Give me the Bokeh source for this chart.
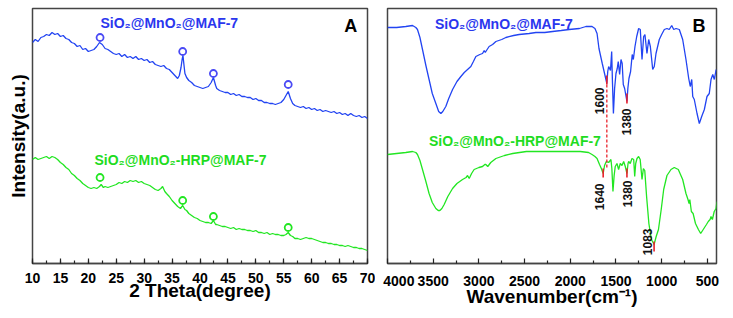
import numpy as np
from bokeh.plotting import figure
from bokeh.layouts import row
from bokeh.models import Label, SingleIntervalTicker, FixedTicker, Range1d
from bokeh.embed import file_html
from bokeh.resources import INLINE
from bokeh.core.properties import value

FONT = "Liberation Sans"
BLUE = "#2244f2"
BLUE_TXT = "#2a36ee"
GREEN = "#22e622"
GREEN_TXT = "#1fdc1f"
RED = "#e8202a"
FRAME = "#444444"

# ---------------- XRD (panel A) ----------------
xrd_2theta_blue = [
    10.0, 10.5, 11.0, 11.5, 12.0, 12.5, 13.0, 13.5, 14.0, 14.5,
    15.0, 15.5, 16.0, 16.5, 17.0, 17.5, 18.0, 18.5, 19.0, 19.5,
    20.0, 20.5, 21.0, 21.5, 22.0, 22.5, 23.0, 23.5, 24.0, 24.5,
    25.0, 25.5, 26.0, 26.5, 27.0, 27.5, 28.0, 28.5, 29.0, 29.5,
    30.0, 30.5, 31.0, 31.5, 32.0, 32.5, 33.0, 33.5, 34.0, 34.5,
    35.0, 35.5, 36.0, 36.3, 36.6, 36.8, 36.95, 37.1, 37.3, 37.6,
    38.0, 38.5, 39.0, 39.5, 40.0, 40.5, 41.0, 41.5, 42.0, 42.4,
    42.8, 43.0, 43.5, 44.0, 44.5, 45.0, 45.5, 46.0, 46.5, 47.0,
    47.5, 48.0, 48.5, 49.0, 49.5, 50.0, 50.5, 51.0, 51.5, 52.0,
    52.5, 53.0, 53.5, 54.0, 54.5, 55.0, 55.4, 55.8, 56.2, 56.6,
    57.0, 57.5, 58.0, 58.5, 59.0, 59.5, 60.0, 60.5, 61.0, 61.5,
    62.0, 62.5, 63.0, 63.5, 64.0, 64.5, 65.0, 65.5, 66.0, 66.5,
    67.0, 67.5, 68.0, 68.5, 69.0, 69.5, 70.0]
xrd_int_blue = [
    221, 224, 222, 226, 227, 229, 228, 231, 229, 230,
    227, 228, 225, 224, 221, 220, 217, 218, 214, 215,
    212, 213, 214, 217, 221, 219, 215, 214, 212, 210,
    209, 210, 207, 209, 206, 207, 205, 207, 204, 205,
    203, 204, 201, 202, 199, 198, 197, 198, 195, 194,
    191, 188, 185, 188, 196, 204, 208, 200, 190, 186,
    183, 181, 178, 177, 176, 175, 176, 177, 181, 186,
    178, 175, 173, 172, 171, 171, 169, 170, 168, 169,
    167, 167, 166, 166, 164, 165, 163, 163, 161, 161,
    160, 160, 159, 160, 161, 164, 168, 172, 165, 160,
    158, 157, 156, 157, 155, 156, 154, 155, 153, 154,
    152, 153, 152, 151, 152, 150, 151, 149, 150, 148,
    150, 148, 147, 148, 146, 147, 145]

xrd_2theta_green = [
    10.0, 10.5, 11.0, 11.5, 12.0, 12.5, 13.0, 13.5, 14.0, 14.5,
    15.0, 15.5, 16.0, 16.5, 17.0, 17.5, 18.0, 18.5, 19.0, 19.5,
    20.0, 20.5, 21.0, 21.5, 22.0, 22.3, 22.7, 23.0, 23.5, 24.0,
    24.5, 25.0, 25.5, 26.0, 26.5, 27.0, 27.5, 28.0, 28.5, 29.0,
    29.5, 30.0, 30.5, 31.0, 31.5, 32.0, 32.5, 33.0, 33.3, 33.7,
    34.0, 34.5, 35.0, 35.5, 36.0, 36.5, 36.9, 37.3, 37.6, 38.0,
    38.5, 39.0, 39.5, 40.0, 40.5, 41.0, 41.5, 42.0, 42.4, 42.8,
    43.0, 43.5, 44.0, 44.5, 45.0, 45.5, 46.0, 46.5, 47.0, 47.5,
    48.0, 48.5, 49.0, 49.5, 50.0, 50.5, 51.0, 51.5, 52.0, 52.5,
    53.0, 53.5, 54.0, 54.5, 55.0, 55.4, 55.8, 56.2, 56.6, 57.0,
    57.5, 58.0, 58.5, 59.0, 59.5, 60.0, 60.5, 61.0, 61.5, 62.0,
    62.5, 63.0, 63.5, 64.0, 64.5, 65.0, 65.5, 66.0, 66.5, 67.0,
    67.5, 68.0, 68.5, 69.0, 69.5, 70.0]
xrd_int_green = [
    104, 106, 104, 105, 106, 107, 105, 107, 106, 104,
    101, 99, 96, 94, 90, 88, 85, 83, 80, 78,
    76, 75, 76, 75, 77, 79, 76, 77, 76, 77,
    78, 79, 81, 80, 82, 81, 83, 82, 83, 81,
    82, 80, 79, 78, 76, 74, 73, 75, 77, 72,
    70, 67, 63, 60, 57, 55, 58, 54, 53, 50,
    48, 46, 45, 43, 42, 41, 41, 40, 43, 39,
    39, 38, 37, 37, 36, 35, 36, 34, 35, 34,
    34, 33, 33, 32, 33, 31, 31, 30, 31, 29,
    30, 29, 29, 28, 28, 29, 31, 28, 27, 25,
    25, 24, 25, 26, 25, 25, 24, 23, 22, 21,
    21, 20, 20, 19, 19, 18, 18, 17, 18, 17,
    16, 16, 15, 15, 14, 13]

xrd_marker_2theta = [22.1, 36.9, 42.4, 55.8]
xrd_marker_blue = [226, 212, 190, 179]
xrd_marker_green = [86, 63, 47, 36]

# ---------------- FTIR (panel B) ----------------
ftir_wn_blue = [
    4000, 3900, 3800, 3726, 3690, 3672, 3645, 3617, 3580, 3545,
    3510, 3471, 3440, 3416, 3395, 3362, 3330, 3288, 3240, 3197,
    3160, 3124, 3088, 3060, 3033, 2990, 2960, 2942, 2930, 2924,
    2888, 2850, 2814, 2750, 2705, 2620, 2559, 2450, 2376, 2280,
    2193, 2100, 2012, 1900, 1829, 1762, 1730, 1707, 1686, 1650,
    1625, 1600, 1590, 1580, 1570, 1560, 1547, 1538, 1528, 1515,
    1500, 1486, 1475, 1460, 1445, 1432, 1420, 1405, 1380, 1370,
    1358, 1340, 1322, 1310, 1292, 1273, 1252, 1234, 1215, 1197,
    1183, 1161, 1142, 1124, 1098, 1081, 1062, 1026, 1000, 971,
    942, 917, 890, 868, 843, 807, 770, 734, 704, 687,
    671, 660, 643, 613, 588, 562, 533, 504, 479, 460,
    441, 424, 404]
ftir_t_blue = [
    236, 236, 237, 238, 236, 234, 226, 214, 198, 184,
    170, 160, 152, 150, 152, 157, 165, 174, 182, 187,
    191, 194, 197, 202, 207, 209, 210, 213, 211, 212,
    217, 219, 222, 224, 226, 228, 229, 230, 231, 231,
    232, 233, 234, 235, 237, 237, 235, 230, 215, 200,
    190, 180, 192, 197, 195, 193, 212, 180, 150, 175,
    190, 195, 202, 189, 204, 200, 179, 175, 162, 175,
    185, 192, 209, 204, 217, 227, 235, 234, 204, 227,
    229, 210, 224, 217, 194, 197, 210, 224, 229, 234,
    235, 234, 238, 234, 235, 234, 224, 204, 185, 177,
    184, 167, 164, 150, 140, 147, 154, 167, 170, 184,
    189, 184, 194]

ftir_wn_green = [
    4000, 3900, 3800, 3726, 3690, 3672, 3645, 3617, 3580, 3545,
    3510, 3471, 3445, 3427, 3405, 3380, 3340, 3288, 3240, 3179,
    3140, 3124, 3106, 3080, 3052, 3000, 2960, 2935, 2924, 2903,
    2870, 2814, 2720, 2630, 2480, 2185, 1891, 1800, 1762, 1730,
    1707, 1680, 1660, 1640, 1625, 1606, 1580, 1555, 1545, 1533,
    1520, 1508, 1489, 1471, 1453, 1434, 1416, 1398, 1380, 1368,
    1361, 1344, 1325, 1306, 1295, 1284, 1270, 1252, 1235, 1215,
    1200, 1185, 1165, 1140, 1112, 1083, 1060, 1035, 1005, 978,
    942, 898, 862, 818, 770, 734, 712, 700, 692, 675,
    656, 630, 598, 573, 545, 510, 490, 470, 460, 445,
    425, 405, 395]
ftir_t_green = [
    109, 110, 111, 112, 111, 109, 103, 94, 82, 70,
    61, 55, 53, 53, 55, 59, 67, 75, 80, 84,
    86, 88, 85, 90, 94, 96, 97, 99, 99, 97,
    101, 105, 108, 110, 112, 112, 112, 111, 109, 107,
    105, 99, 95, 90, 98, 102, 101, 104, 95, 72,
    88, 97, 100, 94, 100, 98, 102, 97, 90, 100,
    102, 100, 105, 104, 87, 100, 105, 107, 104, 84,
    95, 93, 67, 40, 24, 19, 27, 34, 54, 74,
    88, 94, 96, 94, 84, 70, 64, 60, 64, 52,
    50, 40, 34, 30, 34, 39, 42, 44, 47, 44,
    52, 55, 62]

peak_names = ["1600", "1380", "1640", "1380", "1083"]
peak_wn = [1600, 1380, 1640, 1380, 1083]
peak_mark_lo = [179, 160, 86, 86, 12]
peak_mark_hi = [188, 170, 95, 95, 22]
peak_label_wn = [1685, 1380, 1675, 1372, 1160]
peak_label_top = [176, 155, 80, 83, 35]

ftir_major_ticks = [4000, 3500, 3000, 2500, 2000, 1500, 1000, 500]
ftir_minor_ticks = [3750, 3250, 2750, 2250, 1750, 1250, 750]


def style_common(p):
    p.outline_line_color = FRAME
    p.outline_line_width = 1.5
    p.xgrid.visible = False
    p.ygrid.visible = False
    p.background_fill_color = "white"
    p.border_fill_color = "white"
    ax = p.xaxis[0]
    ax.axis_line_color = FRAME
    ax.axis_line_width = 1.5
    ax.major_tick_in = 5
    ax.major_tick_out = 0
    ax.minor_tick_in = 3
    ax.minor_tick_out = 0
    ax.major_tick_line_color = "#222222"
    ax.minor_tick_line_color = "#222222"
    ax.major_tick_line_width = 1.2
    ax.minor_tick_line_width = 1.2
    ax.major_label_text_font = FONT
    ax.major_label_text_font_size = "14px"
    ax.major_label_text_font_style = "bold"
    ax.major_label_text_color = "black"
    ax.major_label_standoff = 9
    ax.axis_label_text_font = FONT
    ax.axis_label_text_font_size = "19px"
    ax.axis_label_text_font_style = "bold"
    ax.axis_label_text_color = "black"
    ax.axis_label_standoff = -6


def add_label(p, x, y, text, color, size, align="center"):
    p.add_layout(Label(x=x, y=y, text=text, text_font=FONT, text_font_size=size,
                       text_font_style="bold", text_color=color,
                       text_align=align, text_baseline="middle"))


# ---------- Panel A ----------
p1 = figure(width=375, height=318, x_range=Range1d(10, 70), y_range=Range1d(0, 255),
            output_backend="svg", toolbar_location=None,
            min_border_left=32, min_border_right=8, min_border_top=8, min_border_bottom=55)
style_common(p1)
p1.xaxis.ticker = SingleIntervalTicker(interval=5, num_minor_ticks=2)
p1.xaxis.axis_label = "2 Theta(degree)"
p1.yaxis.ticker = FixedTicker(ticks=[])
p1.yaxis.axis_line_color = None
p1.yaxis.major_tick_line_color = None
p1.yaxis.minor_tick_line_color = None
p1.yaxis.axis_label = "Intensity(a.u.)"
p1.yaxis.axis_label_text_font = FONT
p1.yaxis.axis_label_text_font_size = "19px"
p1.yaxis.axis_label_text_font_style = "bold"
p1.yaxis.axis_label_text_color = "black"
p1.yaxis.axis_label_standoff = 4

p1.line(xrd_2theta_blue, xrd_int_blue, line_color=BLUE, line_width=1.3)
p1.line(xrd_2theta_green, xrd_int_green, line_color=GREEN, line_width=1.3)
p1.scatter(xrd_marker_2theta, xrd_marker_blue, marker="circle", size=7,
           fill_color="white", line_color="#4a4af5", line_width=1.8)
p1.scatter(xrd_marker_2theta, xrd_marker_green, marker="circle", size=7,
           fill_color="white", line_color=GREEN, line_width=1.8)

add_label(p1, 34.5, 241, "SiO\u2082@MnO\u2082@MAF-7", BLUE_TXT, "14px")
add_label(p1, 36.5, 104, "SiO\u2082@MnO\u2082-HRP@MAF-7", GREEN_TXT, "14px")
add_label(p1, 67, 238, "A", "black", "18px")

# ---------- Panel B ----------
p2 = figure(width=358, height=318, x_range=Range1d(4000, 400), y_range=Range1d(0, 255),
            output_backend="svg", toolbar_location=None, y_axis_location=None,
            min_border_left=12, min_border_right=17, min_border_top=8, min_border_bottom=55)
style_common(p2)
p2.xaxis.ticker = FixedTicker(ticks=ftir_major_ticks, minor_ticks=ftir_minor_ticks)
# the first label sits a little right of the frame corner, as in the original
p2.xaxis.major_label_overrides = {4000: "\u20074000"}
p2.xaxis.axis_label = "Wavenumber(cm\u207b\u00b9)"

p2.line(ftir_wn_blue, ftir_t_blue, line_color=BLUE, line_width=1.3)
p2.line(ftir_wn_green, ftir_t_green, line_color=GREEN, line_width=1.3)

p2.segment(x0=[1600], y0=[179], x1=[1600], y1=[96], line_color=RED,
           line_width=1.3, line_dash="3 2")
p2.segment(x0=peak_wn, y0=peak_mark_lo, x1=peak_wn, y1=peak_mark_hi,
           line_color=RED, line_width=1.6)
p2.text(x=peak_label_wn, y=peak_label_top, text=peak_names, angle=np.pi / 2,
        text_align="right", text_baseline="middle", text_font=value(FONT),
        text_font_size="12px", text_font_style="bold", text_color="#111111")

add_label(p2, 2727, 240, "SiO\u2082@MnO\u2082@MAF-7", BLUE_TXT, "14px")
add_label(p2, 2606, 123, "SiO\u2082@MnO\u2082-HRP@MAF-7", GREEN_TXT, "14px")
add_label(p2, 591, 238, "B", "black", "18px")

layout = row(p1, p2)
open("out.html", "w").write(file_html(layout, INLINE))
